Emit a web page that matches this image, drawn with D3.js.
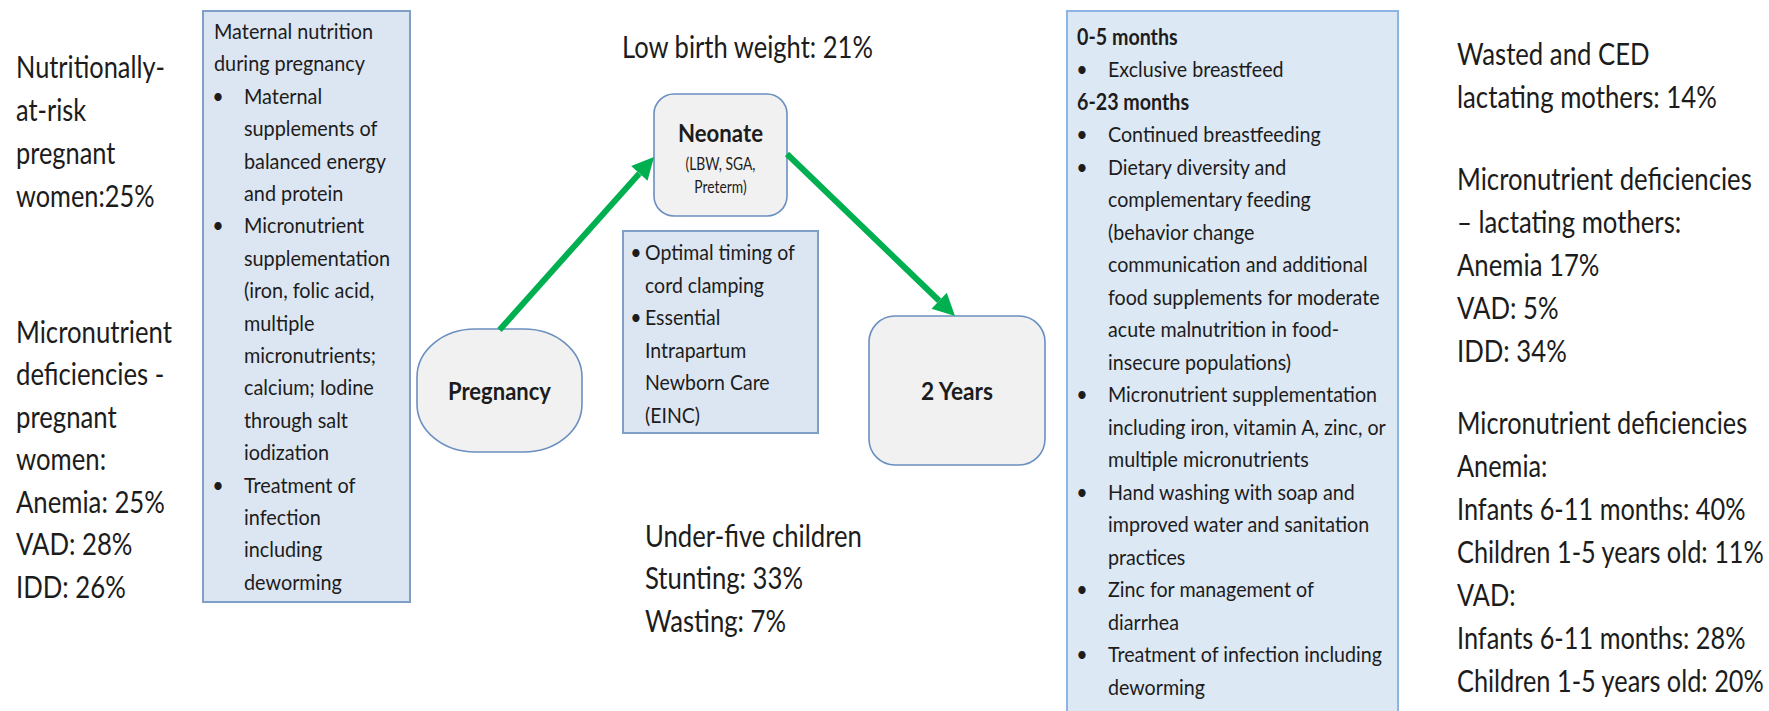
<!DOCTYPE html>
<html>
<head>
<meta charset="utf-8">
<script src="https://cdn.jsdelivr.net/npm/d3@7"></script>
<style>
    body { margin: 0; background: #fff; }
    svg { display: block; }
    text { font-family: Lato, 'Open Sans', sans-serif; fill: #1c1c1c; }
</style>
</head>
<body>
<svg id="chart" width="1769" height="711"></svg>
<script>
// ---- Content of the diagram ----
var pregnantRisk = ['Nutritionally-', 'at-risk', 'pregnant', 'women:25%'];
var pregnantDeficiencies = ['Micronutrient', 'deficiencies -', 'pregnant', 'women:', 'Anemia: 25%', 'VAD: 28%', 'IDD: 26%'];

var maternalTitle = ['Maternal nutrition', 'during pregnancy'];
var maternalItems = [
    ['Maternal', 'supplements of', 'balanced energy', 'and protein'],
    ['Micronutrient', 'supplementation', '(iron, folic acid,', 'multiple', 'micronutrients;', 'calcium; Iodine', 'through salt', 'iodization'],
    ['Treatment of', 'infection', 'including', 'deworming']
];

var stageNames = ['Pregnancy', 'Neonate', '2 Years'];
var neonateNote = ['(LBW, SGA,', 'Preterm)'];
var neonatalItems = [
    ['Optimal timing of', 'cord clamping'],
    ['Essential', 'Intrapartum', 'Newborn Care', '(EINC)']
];

var lowBirthWeight = ['Low birth weight: 21%'];
var underFive = ['Under-five children', 'Stunting: 33%', 'Wasting: 7%'];

var childHeads = ['0-5 months', '6-23 months'];
var childItems = [
    [['Exclusive breastfeed']],
    [
        ['Continued breastfeeding'],
        ['Dietary diversity and', 'complementary feeding', '(behavior change', 'communication and additional', 'food supplements for moderate', 'acute malnutrition in food-', 'insecure populations)'],
        ['Micronutrient supplementation', 'including iron, vitamin A, zinc, or', 'multiple micronutrients'],
        ['Hand washing with soap and', 'improved water and sanitation', 'practices'],
        ['Zinc for management of', 'diarrhea'],
        ['Treatment of infection including', 'deworming']
    ]
];

var lactatingRisk = ['Wasted and CED', 'lactating mothers: 14%'];
var lactatingDeficiencies = ['Micronutrient deficiencies', '\u2013 lactating mothers:', 'Anemia 17%', 'VAD: 5%', 'IDD: 34%'];
var childDeficiencies = ['Micronutrient deficiencies', 'Anemia:', 'Infants 6-11 months: 40%', 'Children 1-5 years old: 11%', 'VAD:', 'Infants 6-11 months: 28%', 'Children 1-5 years old: 20%'];

// ---- Styles ----
var GREEN = '#00b050',
    BOX_FILL = '#dce6f2',
    BOX_STROKE = '#7f9fc9',
    BOX_STROKE_LIGHT = '#8db4e3',
    STAGE_FILL = '#f1f1f1',
    STAGE_STROKE = '#6a8fc0',
    BIG_FONT = 30,
    BOX_FONT = 22,
    STAGE_FONT = 25;

// Stage shapes (x, y, width, height, corner radius)
var STAGE_BOXES = [
    { x: 417, y: 329, w: 165, h: 123, rx: 58, ry: 48 },
    { x: 654, y: 94, w: 133, h: 122, rx: 20, ry: 20 },
    { x: 869, y: 316, w: 176, h: 149, rx: 26, ry: 26 }
];

var svg = d3.select('#chart');

// Plain lines -> line objects
function plain(lines, bold) {
    return lines.map(function(t) { return { text: t, bold: !!bold }; });
}

// Bulleted items -> line objects, first line of every item gets a bullet
function bulleted(items) {
    var out = [];
    items.forEach(function(item) {
        item.forEach(function(t, j) {
            out.push({ text: t, bullet: j === 0, indent: true });
        });
    });
    return out;
}

// Draws a block of lines; the block is squeezed horizontally so that
// the line o.fit[0] gets the width o.fit[1] (the source uses a narrow font)
function textBlock(parent, o) {
    var g = parent.append('g');
    var lines = g.selectAll('text.line')
        .data(o.lines)
        .enter()
        .append('text')
        .attr('class', 'line')
        .attr('y', function(d, i) { return i * (o.lineHeight || 0); })
        .attr('font-size', o.size)
        .attr('font-weight', function(d) { return d.bold || o.bold ? 700 : 400; })
        .attr('text-anchor', o.anchor || 'start')
        .text(function(d) { return d.text; });

    var sx = 1;
    if (o.fit) {
        sx = o.fit[1] / lines.nodes()[o.fit[0]].getComputedTextLength();
    }

    lines.attr('x', function(d) { return d.indent ? (o.textDx || 0) / sx : 0; });

    g.selectAll('text.bullet')
        .data(o.lines.filter(function(d) { return d.bullet; }))
        .enter()
        .append('text')
        .attr('class', 'bullet')
        .attr('x', (o.bulletDx || 0) / sx)
        .attr('y', function(d) { return o.lines.indexOf(d) * o.lineHeight; })
        .attr('font-size', o.size)
        .attr('text-anchor', 'middle')
        .text('\u2022');

    g.attr('transform', 'translate(' + o.x + ',' + o.y + ') scale(' + sx + ',1)');
    return g;
}

function arrow(parent, x1, y1, x2, y2) {
    var a = Math.atan2(y2 - y1, x2 - x1),
        len = 22,
        half = 11,
        bx = x2 - len * Math.cos(a),
        by = y2 - len * Math.sin(a);

    parent.append('line')
        .attr('x1', x1).attr('y1', y1)
        .attr('x2', bx).attr('y2', by)
        .attr('stroke', GREEN)
        .attr('stroke-width', 6);

    parent.append('path')
        .attr('d', 'M' + x2 + ',' + y2 +
            'L' + (bx + half * Math.sin(a)) + ',' + (by - half * Math.cos(a)) +
            'L' + (bx - half * Math.sin(a)) + ',' + (by + half * Math.cos(a)) + 'Z')
        .attr('fill', GREEN);
}

// ---- Left column: pregnant women ----
textBlock(svg, { x: 16, y: 78, lineHeight: 43, size: BIG_FONT, lines: plain(pregnantRisk), fit: [0, 149] });
textBlock(svg, { x: 16, y: 343, lineHeight: 42.5, size: BIG_FONT, lines: plain(pregnantDeficiencies), fit: [0, 156] });

// ---- Maternal interventions box ----
svg.append('rect')
    .attr('x', 203).attr('y', 11)
    .attr('width', 207).attr('height', 591)
    .attr('fill', BOX_FILL)
    .attr('stroke', BOX_STROKE)
    .attr('stroke-width', 2);

textBlock(svg, {
    x: 214, y: 39, lineHeight: 32.4, size: BOX_FONT,
    lines: plain(maternalTitle).concat(bulleted(maternalItems)),
    bulletDx: 4, textDx: 30, fit: [0, 159]
});

// ---- Stages ----
var stages = svg.selectAll('g.stage')
    .data(stageNames)
    .enter()
    .append('g')
    .attr('class', 'stage');

stages.append('rect')
    .attr('x', function(d, i) { return STAGE_BOXES[i].x; })
    .attr('y', function(d, i) { return STAGE_BOXES[i].y; })
    .attr('width', function(d, i) { return STAGE_BOXES[i].w; })
    .attr('height', function(d, i) { return STAGE_BOXES[i].h; })
    .attr('rx', function(d, i) { return STAGE_BOXES[i].rx; })
    .attr('ry', function(d, i) { return STAGE_BOXES[i].ry; })
    .attr('fill', STAGE_FILL)
    .attr('stroke', STAGE_STROKE)
    .attr('stroke-width', 1.6);

var stageFit = [103, 85, 72];
stages.each(function(d, i) {
    var b = STAGE_BOXES[i];
    var cx = b.x + b.w / 2;
    if (d === 'Neonate') {
        textBlock(d3.select(this), { x: cx, y: 142, size: STAGE_FONT, bold: true, anchor: 'middle', lines: plain([d]), fit: [0, stageFit[i]] });
        textBlock(d3.select(this), { x: cx, y: 170, lineHeight: 23, size: 17, anchor: 'middle', lines: plain(neonateNote), fit: [0, 70] });
    } else {
        textBlock(d3.select(this), { x: cx, y: b.y + b.h / 2 + 9, size: STAGE_FONT, bold: true, anchor: 'middle', lines: plain([d]), fit: [0, stageFit[i]] });
    }
});

// Arrows between the stages
var p = STAGE_BOXES[0], n = STAGE_BOXES[1], t = STAGE_BOXES[2];
arrow(svg, p.x + p.w / 2, p.y + 1, n.x, n.y + n.h / 2 + 2);
arrow(svg, n.x + n.w, n.y + n.h / 2 - 1, t.x + t.w / 2 - 2, t.y);

// ---- Neonatal interventions box ----
svg.append('rect')
    .attr('x', 623).attr('y', 231)
    .attr('width', 195).attr('height', 202)
    .attr('fill', BOX_FILL)
    .attr('stroke', BOX_STROKE)
    .attr('stroke-width', 2);

textBlock(svg, {
    x: 630, y: 260, lineHeight: 32.6, size: BOX_FONT,
    lines: bulleted(neonatalItems),
    bulletDx: 6, textDx: 15, fit: [0, 150]
});

// ---- Middle texts ----
textBlock(svg, { x: 622, y: 58, size: BIG_FONT, lines: plain(lowBirthWeight), fit: [0, 251] });
textBlock(svg, { x: 645, y: 547, lineHeight: 42.5, size: BIG_FONT, lines: plain(underFive), fit: [0, 217] });

// ---- Child interventions box (runs past the bottom edge) ----
svg.append('rect')
    .attr('x', 1067).attr('y', 11)
    .attr('width', 331).attr('height', 720)
    .attr('fill', '#dde8f5')
    .attr('stroke', BOX_STROKE_LIGHT)
    .attr('stroke-width', 2);

var childLines = [];
childHeads.forEach(function(h, i) {
    childLines = childLines.concat(plain([h], true), bulleted(childItems[i]));
});
textBlock(svg, {
    x: 1077, y: 45, lineHeight: 32.5, size: BOX_FONT,
    lines: childLines,
    bulletDx: 5, textDx: 31, fit: [childLines.length - 2, 274]
});

// ---- Right column: lactating mothers and children ----
textBlock(svg, { x: 1457, y: 65, lineHeight: 43, size: BIG_FONT, lines: plain(lactatingRisk), fit: [1, 260] });
textBlock(svg, { x: 1457, y: 190, lineHeight: 43, size: BIG_FONT, lines: plain(lactatingDeficiencies), fit: [0, 295] });
textBlock(svg, { x: 1457, y: 434, lineHeight: 43, size: BIG_FONT, lines: plain(childDeficiencies), fit: [3, 307] });
</script>
</body>
</html>
